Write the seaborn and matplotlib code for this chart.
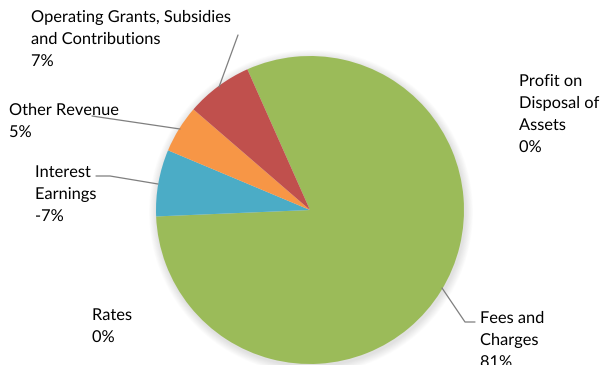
import matplotlib
matplotlib.use('Agg')
import matplotlib.pyplot as plt
import seaborn as sns
import matplotlib.patheffects as pe
from matplotlib.patches import Circle

sns.set_theme(style='white')
plt.rcParams['font.family'] = ['Lato', 'DejaVu Sans']

# ---- data ----
categories = ['Fees and Charges', 'Interest Earnings', 'Other Revenue',
              'Operating Grants, Subsidies and Contributions',
              'Rates', 'Profit on Disposal of Assets']
values = [81, -7, 5, 7, 0, 0]          # percent shares as labelled
label_texts = ['Fees and\nCharges', 'Interest\nEarnings', 'Other Revenue',
               'Operating Grants, Subsidies\nand Contributions',
               'Rates', 'Profit on\nDisposal of\nAssets']
colors = ['#9BBB59', '#4BACC6', '#F79646', '#C0504D', '#4F81BD', '#8064A2']

W, H = 602, 365
fig = plt.figure(figsize=(W / 100, H / 100), dpi=100)
ax = fig.add_axes([0, 0, 1, 1])

cx, cy, R = 310, H - 210, 154

# soft shadow
for k in range(10, 0, -1):
    ax.add_patch(Circle((cx + 1, cy - 2), R + k * 0.8, color='black',
                        alpha=0.012, lw=0, zorder=0))

sizes = [abs(v) for v in values if v != 0]
cols = [c for v, c in zip(values, colors) if v != 0]
ax.pie(sizes, colors=cols, startangle=114, counterclock=False,
       center=(cx, cy), radius=R, wedgeprops=dict(linewidth=0))

# label layout (pixel coordinates from top-left: x, first-line centre y)
pos = {
    'Fees and Charges': (480, 319),
    'Interest Earnings': (35, 173),
    'Other Revenue': (9, 111),
    'Operating Grants, Subsidies and Contributions': (31, 18),
    'Rates': (92, 316),
    'Profit on Disposal of Assets': (519, 82),
}
dy = 22
for cat, txt, v in zip(categories, label_texts, values):
    x0, y0 = pos[cat]
    lines = txt.split('\n') + [f'{v}%']
    for i, line in enumerate(lines):
        t = ax.text(x0, H - (y0 + i * dy), line, fontsize=11.8, color='black',
                    ha='left', va='center')
        t.set_path_effects([pe.SimpleLineShadow(offset=(0.8, -0.8), shadow_color='gray', alpha=0.3),
                            pe.Normal()])

# leader lines (pixel coords)
leaders = [
    [(238, 35), (219, 87)],
    [(92, 116), (180, 129)],
    [(96, 176), (110, 176), (158, 184)],
    [(442, 288), (465, 322), (475, 322)],
]
for pts in leaders:
    xs = [p[0] for p in pts]
    ys = [H - p[1] for p in pts]
    ax.plot(xs, ys, color='#7F7F7F', lw=0.9, zorder=3)

ax.set_xlim(0, W)
ax.set_ylim(0, H)
ax.set_aspect('equal')
ax.axis('off')
fig.savefig('out.png', dpi=100)
